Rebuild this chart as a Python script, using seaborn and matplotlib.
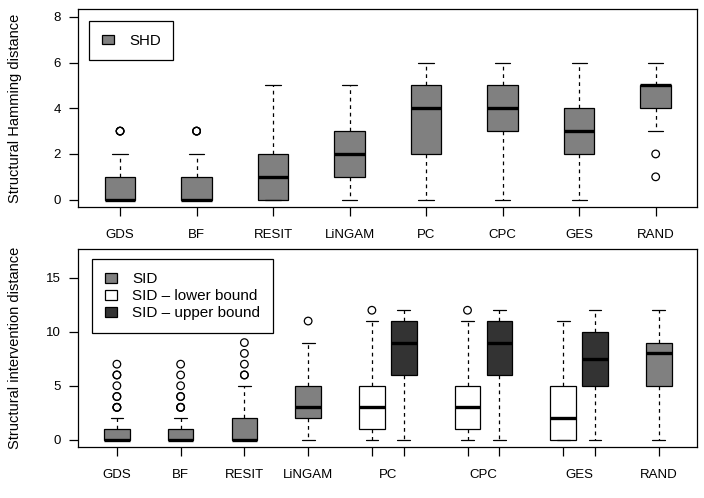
import numpy as np
import matplotlib
matplotlib.use("Agg")
import matplotlib.pyplot as plt
from matplotlib.patches import Patch
import pandas as pd
import seaborn as sns

# SHD panel: box statistics per method (whisker low, q1, median, q3, whisker high)
shd_methods = ["GDS", "BF", "RESIT", "LiNGAM", "PC", "CPC", "GES", "RAND"]
shd_lo = [0, 0, 0, 0, 0, 0, 0, 3]
shd_q1 = [0, 0, 0, 1, 2, 3, 2, 4]
shd_med = [0, 0, 1, 2, 4, 4, 3, 5]
shd_q3 = [1, 1, 2, 3, 5, 5, 4, 5]
shd_hi = [2, 2, 5, 5, 6, 6, 6, 6]
shd_out = [[3, 3, 3], [3, 3, 3], [], [], [], [], [], [2, 1]]

# SID panel: one or two boxes per method
sid_method = ["GDS", "BF", "RESIT", "LiNGAM", "PC", "PC", "CPC", "CPC", "GES", "GES", "RAND"]
sid_kind = ["SID", "SID", "SID", "SID", "lower", "upper", "lower", "upper", "lower", "upper", "SID"]
sid_lo = [0, 0, 0, 0, 0, 0, 0, 0, 0, 0, 0]
sid_q1 = [0, 0, 0, 2, 1, 6, 1, 6, 0, 5, 5]
sid_med = [0, 0, 0, 3, 3, 9, 3, 9, 2, 7.5, 8]
sid_q3 = [1, 1, 2, 5, 5, 11, 5, 11, 5, 10, 9]
sid_hi = [2, 2, 5, 9, 11, 12, 11, 12, 11, 12, 12]
sid_out = [[3, 3, 3, 4, 4, 5, 6, 6, 7], [3, 3, 3, 4, 4, 5, 6, 7], [6, 6, 7, 8, 9], [11],
           [12], [], [12], [], [], [], []]

kind_colors = {"SID": "#808080", "lower": "#ffffff", "upper": "#333333"}
kind_labels = {"SID": "SID", "lower": "SID \u2013 lower bound", "upper": "SID \u2013 upper bound"}


def box_positions(methods):
    # next method one unit after the previous one, paired boxes half a unit apart
    pos = []
    for i, m in enumerate(methods):
        if i == 0:
            pos.append(1.0)
        elif m == methods[i - 1]:
            pos.append(pos[-1] + 0.5)
        else:
            pos.append(pos[-1] + 1.0)
    return pos


def long_frame(methods, kinds, lo, q1, med, q3, hi, pos):
    rows = []
    for i in range(len(methods)):
        for v in (lo[i], q1[i], med[i], q3[i], hi[i]):
            rows.append({"pos": pos[i], "kind": kinds[i], "value": v})
    return pd.DataFrame(rows)


def draw_panel(ax, methods, kinds, lo, q1, med, q3, hi, outs):
    pos = box_positions(methods)
    df = long_frame(methods, kinds, lo, q1, med, q3, hi, pos)
    step = np.min(np.diff(sorted(set(pos))))
    sns.boxplot(data=df, x="pos", y="value", hue="kind", palette=kind_colors,
                native_scale=True, dodge=False, whis=(0, 100), width=0.4 / step,
                saturation=1, linecolor="black", linewidth=0.9, showfliers=False,
                medianprops=dict(linewidth=2.4),
                whiskerprops=dict(linestyle=(0, (3, 3))),
                legend=False, ax=ax)
    ox = [pos[i] for i in range(len(outs)) for _ in outs[i]]
    oy = [v for o in outs for v in o]
    if ox:
        sns.scatterplot(x=ox, y=oy, marker="o", s=30, facecolor="none",
                        edgecolor="black", linewidth=0.9, ax=ax, zorder=5)
    # tick marks under each box, labels at method centres
    names = list(dict.fromkeys(methods))
    centres = [np.mean([p for p, m in zip(pos, methods) if m == n]) for n in names]
    ax.xaxis.remove_overlapping_locs = False
    ax.set_xticks(pos)
    ax.set_xticklabels([""] * len(pos))
    ax.set_xticks(centres, minor=True)
    ax.set_xticklabels(names, minor=True)
    ax.tick_params(axis="x", which="minor", length=0, pad=16)
    ax.set_xlabel("")
    return pos


sns.set_style("ticks")
plt.rcParams["font.family"] = ["Liberation Sans", "DejaVu Sans"]
plt.rcParams["font.size"] = 9
for key in ["text.color", "axes.labelcolor", "xtick.color", "ytick.color"]:
    plt.rcParams[key] = "black"

fig = plt.figure(figsize=(7.04, 4.98), dpi=100)
ax1 = fig.add_axes([78 / 704, 1 - 207 / 498, 619 / 704, 197.5 / 498])
ax2 = fig.add_axes([78 / 704, 1 - 447 / 498, 619 / 704, 198 / 498])

draw_panel(ax1, shd_methods, ["SID"] * len(shd_methods), shd_lo, shd_q1, shd_med,
           shd_q3, shd_hi, shd_out)
ax1.set_xlim(0.45, 8.54)
ax1.set_ylim(-0.32, 8.32)
ax1.set_yticks([0, 2, 4, 6, 8])
ax1.set_ylabel("Structural Hamming distance", fontsize=10.5)

draw_panel(ax2, sid_method, sid_kind, sid_lo, sid_q1, sid_med, sid_q3, sid_hi, sid_out)
ax2.set_xlim(0.39, 10.1)
ax2.set_ylim(-0.68, 17.68)
ax2.set_yticks([0, 5, 10, 15])
ax2.set_ylabel("Structural intervention distance", fontsize=10.5)

for ax in (ax1, ax2):
    for s in ax.spines.values():
        s.set_visible(True)
        s.set_color("black")
        s.set_linewidth(0.9)
    ax.tick_params(axis="both", which="major", length=6.5, width=0.9, color="black",
                   labelsize=9.5)
    ax.tick_params(axis="y", pad=6)
    ax.tick_params(axis="x", which="minor", labelsize=9.5)
    ax.yaxis.set_label_coords(-0.09, 0.5)

leg1 = ax1.legend(handles=[Patch(facecolor=kind_colors["SID"], edgecolor="black",
                                 linewidth=0.9, label="SHD")],
                  loc="upper left", bbox_to_anchor=(0.018, 0.942), borderaxespad=0,
                  fancybox=False, framealpha=1, edgecolor="black", fontsize=10.8,
                  handlelength=0.8, handleheight=0.6, handletextpad=1.0,
                  borderpad=0.85)
leg1.get_frame().set_linewidth(0.9)

leg2 = ax2.legend(handles=[Patch(facecolor=kind_colors[k], edgecolor="black",
                                 linewidth=0.9, label=kind_labels[k])
                           for k in ["SID", "lower", "upper"]],
                  loc="upper left", bbox_to_anchor=(0.0226, 0.949), borderaxespad=0,
                  fancybox=False, framealpha=1, edgecolor="black", fontsize=11,
                  handlelength=0.8, handleheight=0.6, handletextpad=1.0,
                  borderpad=0.85, labelspacing=0.2)
leg2.get_frame().set_linewidth(0.9)

fig.savefig("out.png", dpi=100)
